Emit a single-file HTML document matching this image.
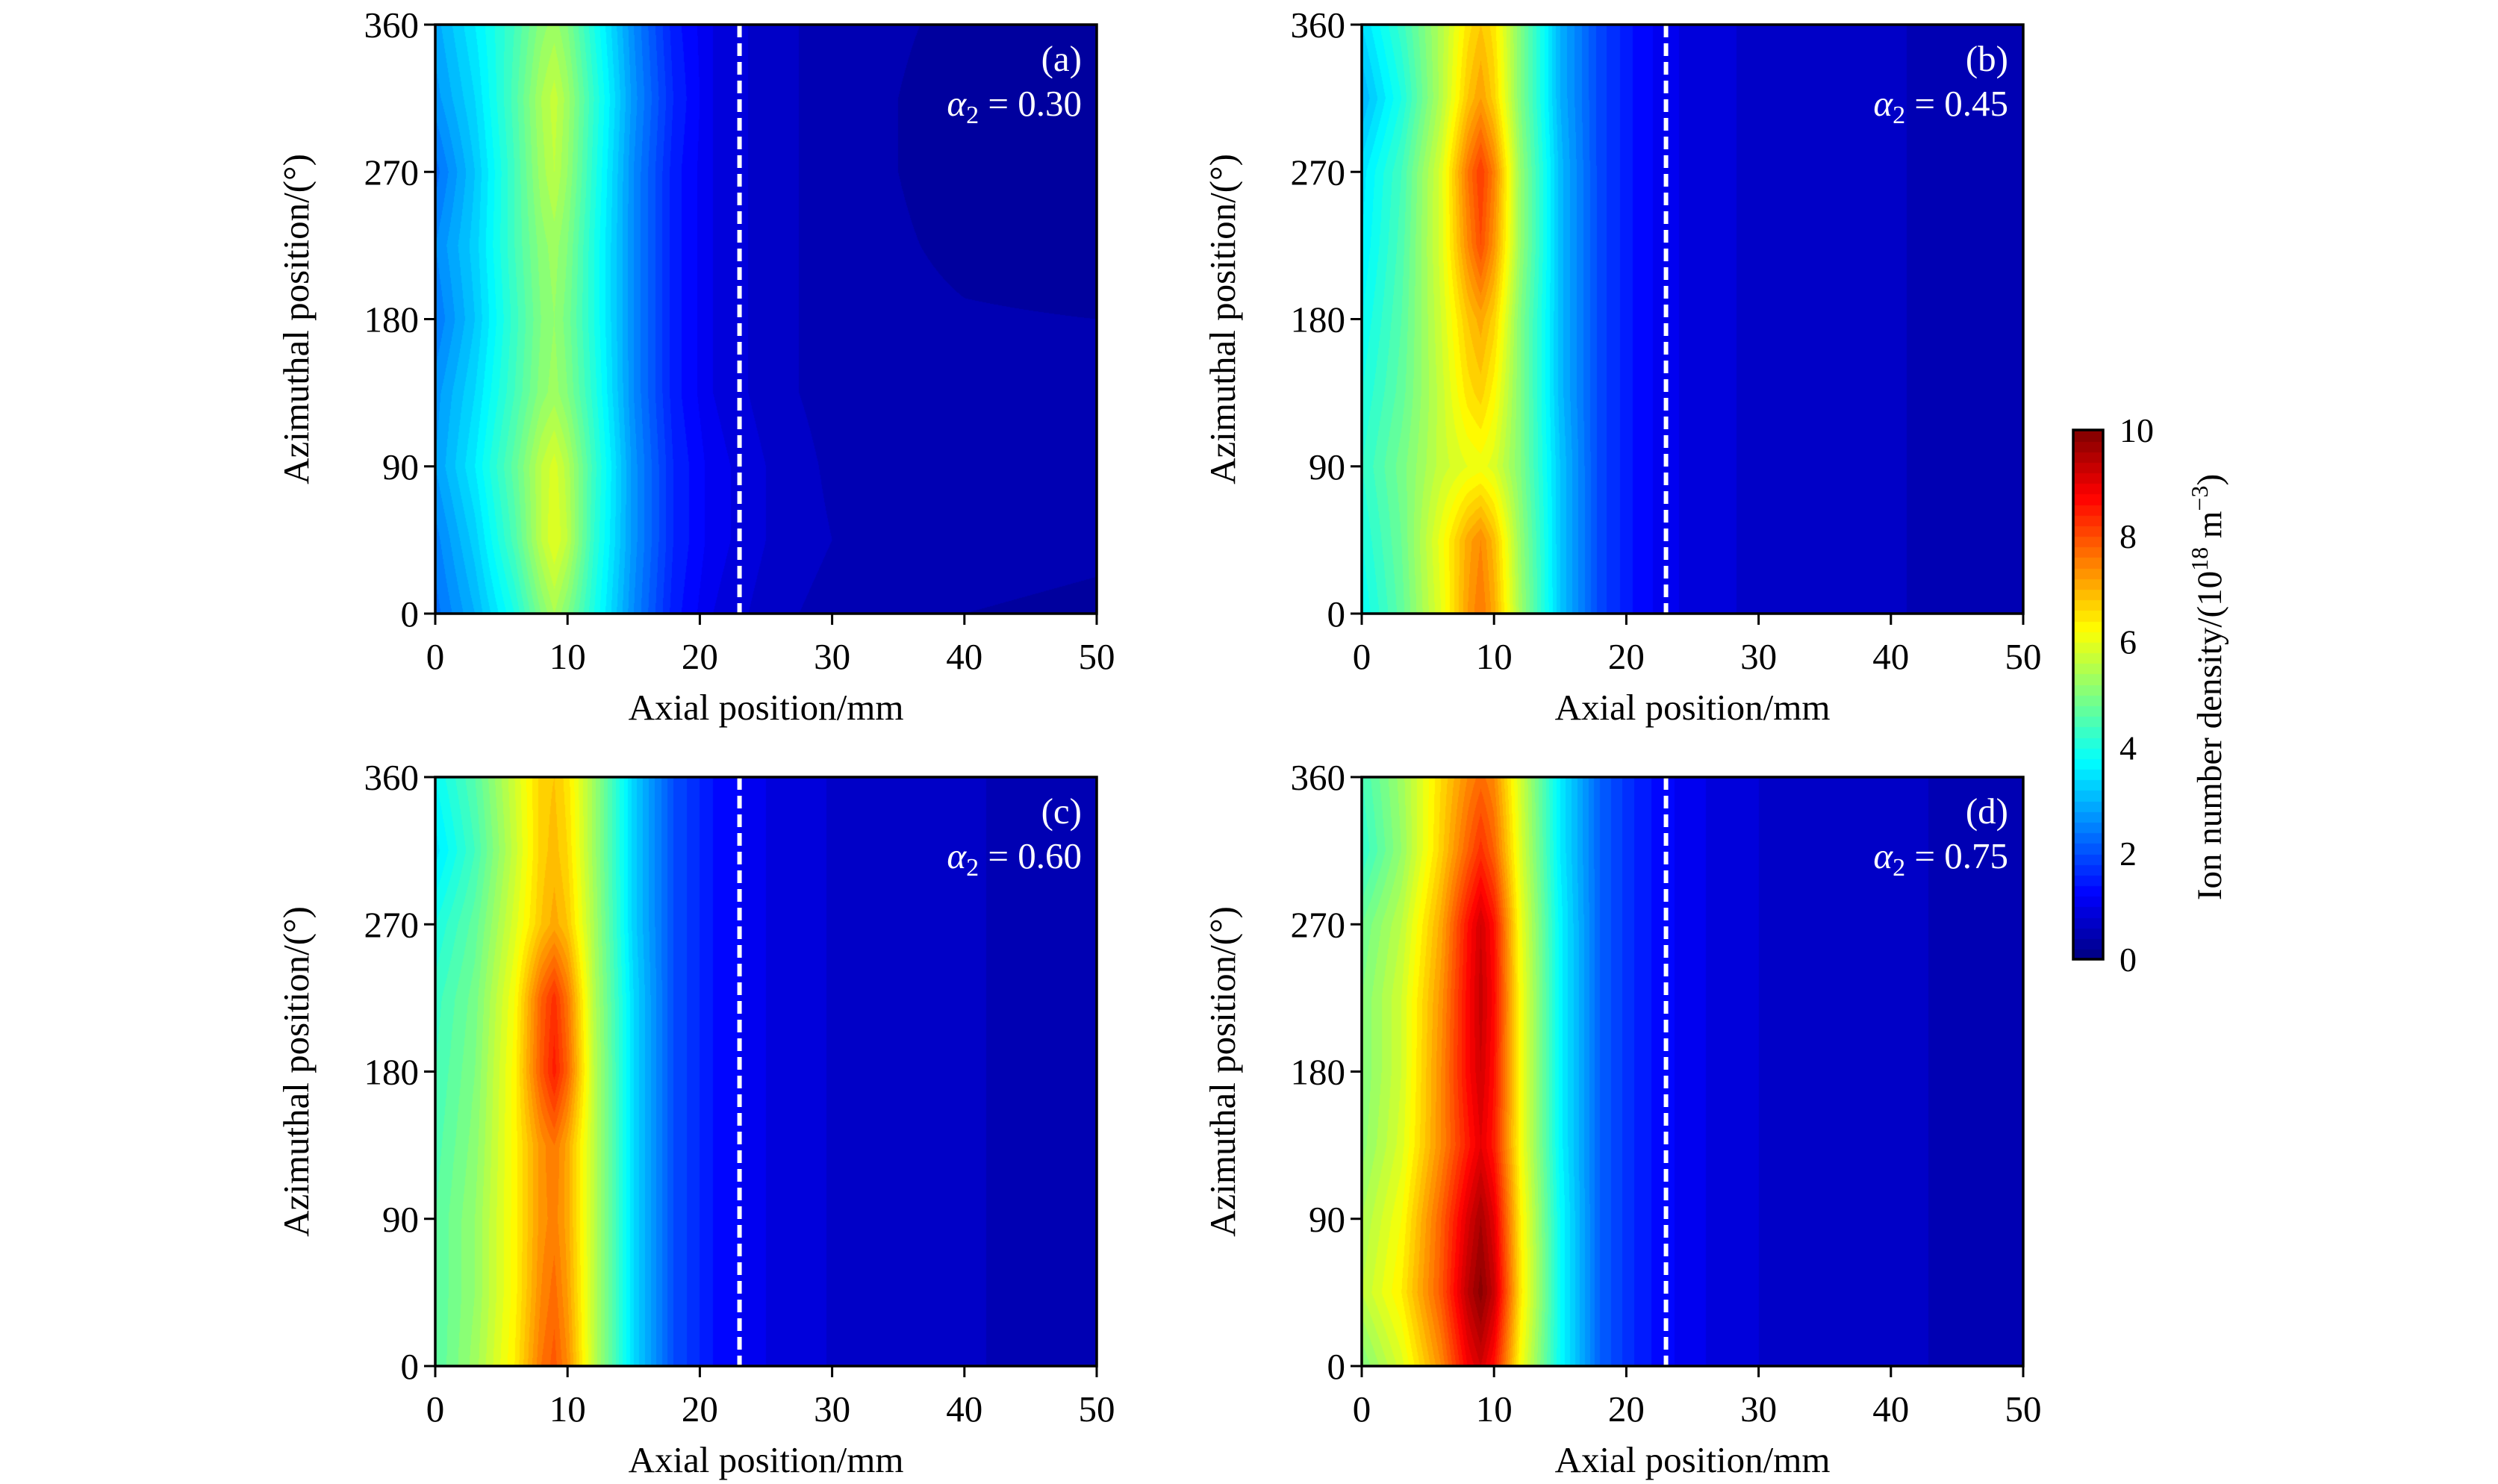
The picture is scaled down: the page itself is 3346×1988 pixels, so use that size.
<!DOCTYPE html>
<html><head><meta charset="utf-8">
<style>
body{margin:0;background:#fff;width:3346px;height:1988px;overflow:hidden;position:relative;font-family:"Liberation Serif",serif;}
canvas{position:absolute;}
svg{position:absolute;left:0;top:0;}
</style></head>
<body>
<canvas id="ca"></canvas>
<canvas id="cb"></canvas>
<canvas id="cc"></canvas>
<canvas id="cd"></canvas>
<canvas id="cbar"></canvas>
<svg id="ov" width="3346" height="1988"></svg>
<script>
const xCols=[0,3,6,8,9,10,12,15,18,21,25,30,40,50];
const thetaRows=[0,45,90,135,180,225,270,315,360];
const xTicks=[0,10,20,30,40,50];
const yTicks=[0,90,180,270,360];
const cbTicks=[0,2,4,6,8,10];
const panelLabels=["(a)","(b)","(c)","(d)"];
const alphaValues=["0.30","0.45","0.60","0.75"];
const dashX=23;
const densA=[
[2.3,3.0,4.0,5.0,5.4,5.0,4.0,2.6,1.5,1.0,0.7,0.5,0.4,0.35],
[2.5,3.3,4.5,5.6,6.0,5.6,4.2,2.7,1.6,1.1,0.8,0.6,0.5,0.45],
[2.8,3.6,4.7,5.6,5.9,5.5,4.3,2.7,1.6,1.1,0.8,0.55,0.5,0.45],
[2.7,3.4,4.4,5.1,5.3,5.0,4.1,2.6,1.5,1.0,0.7,0.5,0.45,0.45],
[2.4,3.2,4.3,5.0,5.2,4.9,4.0,2.6,1.5,1.0,0.7,0.5,0.42,0.4],
[2.6,3.3,4.4,5.1,5.3,5.0,4.0,2.6,1.5,1.0,0.7,0.5,0.35,0.3],
[2.3,3.2,4.4,5.3,5.6,5.2,4.1,2.6,1.5,1.0,0.7,0.5,0.3,0.3],
[2.7,3.4,4.5,5.4,5.7,5.3,4.2,2.7,1.6,1.0,0.7,0.5,0.3,0.3],
[2.9,3.6,4.4,5.1,5.3,5.0,4.0,2.6,1.5,1.0,0.7,0.5,0.35,0.35]];
const densB=[
[3.8,4.7,6.0,7.2,7.6,7.1,5.3,3.2,1.9,1.3,0.9,0.75,0.62,0.45],
[4.0,4.8,6.1,7.1,7.4,6.9,5.2,3.2,1.9,1.3,0.9,0.75,0.62,0.45],
[4.2,4.9,5.7,6.0,6.1,5.9,5.0,3.2,1.9,1.3,0.9,0.75,0.62,0.45],
[4.0,4.7,5.7,6.5,6.7,6.3,5.0,3.1,1.9,1.3,0.9,0.75,0.62,0.45],
[3.8,4.6,5.8,6.8,7.1,6.7,5.0,3.1,1.9,1.3,0.9,0.75,0.62,0.45],
[3.6,4.5,5.9,7.4,8.0,7.3,5.2,3.1,1.9,1.3,0.9,0.75,0.62,0.45],
[3.5,4.4,5.9,7.6,8.2,7.5,5.2,3.1,1.9,1.3,0.9,0.75,0.62,0.45],
[3.0,4.0,5.5,6.8,7.2,6.7,5.0,3.0,1.9,1.3,0.9,0.75,0.62,0.45],
[3.4,4.3,5.5,6.5,6.8,6.5,5.0,3.0,1.9,1.3,0.9,0.75,0.62,0.45]];
const densC=[
[4.6,5.3,6.4,7.6,7.9,7.4,5.6,3.4,2.0,1.4,1.0,0.78,0.62,0.5],
[4.6,5.2,6.3,7.4,7.7,7.2,5.6,3.4,2.0,1.4,1.0,0.78,0.62,0.5],
[4.6,5.2,6.3,7.3,7.5,7.1,5.6,3.4,2.0,1.4,1.0,0.78,0.62,0.5],
[4.5,5.1,6.3,7.3,7.6,7.1,5.6,3.4,2.0,1.4,1.0,0.78,0.62,0.5],
[4.4,5.0,6.3,7.9,8.5,7.8,5.6,3.4,2.0,1.4,1.0,0.78,0.62,0.5],
[4.3,4.9,6.2,7.8,8.3,7.6,5.5,3.4,2.0,1.4,1.0,0.78,0.62,0.5],
[4.0,4.7,5.9,6.8,7.1,6.8,5.4,3.3,2.0,1.4,1.0,0.78,0.62,0.5],
[3.5,4.4,5.7,6.7,6.9,6.6,5.3,3.3,2.0,1.4,1.0,0.78,0.62,0.5],
[3.8,4.6,5.8,6.7,6.8,6.5,5.3,3.3,2.0,1.4,1.0,0.78,0.62,0.5]];
const densD=[
[5.0,5.9,7.4,8.8,9.2,8.6,6.2,3.8,2.2,1.5,1.05,0.8,0.64,0.5],
[5.6,6.4,7.9,9.4,9.9,9.3,6.5,3.8,2.2,1.5,1.05,0.8,0.64,0.5],
[5.4,6.2,7.8,9.1,9.6,9.0,6.4,3.8,2.2,1.5,1.05,0.8,0.64,0.5],
[5.1,5.9,7.4,8.5,9.0,8.5,6.2,3.7,2.2,1.5,1.05,0.8,0.64,0.5],
[5.0,5.8,7.4,8.7,9.2,8.6,6.2,3.7,2.2,1.5,1.05,0.8,0.64,0.5],
[5.0,5.8,7.3,8.7,9.3,8.7,6.2,3.7,2.2,1.5,1.05,0.8,0.64,0.5],
[4.8,5.6,7.1,8.6,9.2,8.6,6.1,3.7,2.2,1.5,1.05,0.8,0.64,0.5],
[4.2,5.2,6.7,7.8,8.3,7.8,5.9,3.6,2.2,1.5,1.05,0.8,0.64,0.5],
[4.4,5.3,6.6,7.4,7.7,7.4,5.8,3.6,2.2,1.5,1.05,0.8,0.64,0.5]];

const panels=[
 {id:'ca',L:583,T:33,d:densA},
 {id:'cb',L:1824,T:33,d:densB},
 {id:'cc',L:583,T:1041,d:densC},
 {id:'cd',L:1824,T:1041,d:densD}];
const W=886,H=789,XMAX=50,YMAX=360,VMAX=10,NLEV=50;
function xs(v,p){return p.L+v/XMAX*W;}
function ys(v,p){return p.T+H-v/YMAX*H;}
function jet(t){const c=v=>Math.round(255*Math.max(0,Math.min(1,v)));
 return [c(1.5-Math.abs(4*t-3)),c(1.5-Math.abs(4*t-2)),c(1.5-Math.abs(4*t-1))];}
function idx(arr,v){let i=0;while(i<arr.length-2&&arr[i+1]<v)i++;return [i,(v-arr[i])/(arr[i+1]-arr[i])];}
function val(d,x,th){const [i,fx]=idx(xCols,x);const [j,fy]=idx(thetaRows,th);
 const a=d[j][i]*(1-fx)+d[j][i+1]*fx, b=d[j+1][i]*(1-fx)+d[j+1][i+1]*fx; return a*(1-fy)+b*fy;}
panels.forEach(p=>{
 const cv=document.getElementById(p.id);cv.width=W;cv.height=H;cv.style.left=p.L+'px';cv.style.top=p.T+'px';
 const ctx=cv.getContext('2d');const img=ctx.createImageData(W,H);
 for(let py=0;py<H;py++){const th=(H-py-0.5)/H*YMAX;
  for(let px=0;px<W;px++){const x=(px+0.5)/W*XMAX;
   let v=val(p.d,x,th);let lev=Math.min(NLEV-1,Math.max(0,Math.floor(v/VMAX*NLEV)));
   const c=jet((lev+0.5)/NLEV);const k=(py*W+px)*4;
   img.data[k]=c[0];img.data[k+1]=c[1];img.data[k+2]=c[2];img.data[k+3]=255;}}
 ctx.putImageData(img,0,0);
});
const CB={L:2777,T:576,W:40,H:709};
const cbc=document.getElementById('cbar');cbc.width=CB.W;cbc.height=CB.H;cbc.style.left=CB.L+'px';cbc.style.top=CB.T+'px';
const cx=cbc.getContext('2d');
for(let l=0;l<NLEV;l++){const c=jet((l+0.5)/NLEV);cx.fillStyle=`rgb(${c[0]},${c[1]},${c[2]})`;
 const y0=CB.H-(l+1)/NLEV*CB.H;cx.fillRect(0,Math.floor(y0),CB.W,Math.ceil(CB.H/NLEV)+1);}
const NS='http://www.w3.org/2000/svg';const ov=document.getElementById('ov');
function el(tag,attrs,txt){const e=document.createElementNS(NS,tag);for(const k in attrs)e.setAttribute(k,attrs[k]);if(txt!==undefined)e.textContent=txt;ov.appendChild(e);return e;}
panels.forEach((p,pi)=>{
 const dl=el('line',{x1:xs(dashX,p),x2:xs(dashX,p),y1:p.T,y2:p.T+H,stroke:'#fff','stroke-width':6,'stroke-dasharray':'17 8'});
 
 
 const fr=el('rect',{x:p.L,y:p.T,width:W,height:H,fill:'none',stroke:'#000','stroke-width':3.5});
 
 
 xTicks.forEach(t=>{const x=xs(t,p);
  const tk=el('line',{x1:x,x2:x,y1:p.T+H,y2:p.T+H+15,stroke:'#000','stroke-width':3});
  
  
  const tl=el('text',{x:x,y:p.T+H+74,'font-size':49,'text-anchor':'middle'},String(t));
  
  });
 yTicks.forEach(t=>{const y=ys(t,p);
  const tk=el('line',{x1:p.L-15,x2:p.L,y1:y,y2:y,stroke:'#000','stroke-width':3});
  
  
  const tl=el('text',{x:p.L-22,y:y+17,'font-size':49,'text-anchor':'end'},String(t));
  
  });
 const xt=el('text',{x:p.L+W/2,y:p.T+H+142,'font-size':49,'text-anchor':'middle'},'Axial position/mm');
 
 
 const ycx=p.L-170,ycy=p.T+H/2;
 const yt=el('text',{x:ycx,y:ycy,'font-size':49,'text-anchor':'middle',transform:`rotate(-90 ${ycx} ${ycy})`},'Azimuthal position/(°)');
 
 
 const pl=el('text',{x:p.L+W-20,y:p.T+62,'font-size':49,'text-anchor':'end',fill:'#fff'},panelLabels[pi]);
 
 
 const at=el('text',{x:p.L+W-20,y:p.T+122,'font-size':49,'text-anchor':'end',fill:'#fff'});
 
 
 at.innerHTML=`<tspan font-style="italic">α</tspan><tspan font-size="34" dy="10">2</tspan><tspan dy="-10"> = ${alphaValues[pi]}</tspan>`;
});
const cbf=el('rect',{x:CB.L,y:CB.T,width:CB.W,height:CB.H,fill:'none',stroke:'#000','stroke-width':3.5});


cbTicks.forEach(t=>{const y=CB.T+CB.H-t/VMAX*CB.H;
 const tl=el('text',{x:CB.L+CB.W+22,y:y+16,'font-size':46},String(t));
 
 });
const lx=2975,ly=CB.T+CB.H/2-10;
const cl=el('text',{x:lx,y:ly,'font-size':47,'text-anchor':'middle',transform:`rotate(-90 ${lx} ${ly})`});


cl.innerHTML='Ion number density/(10<tspan font-size="32" dy="-18">18</tspan><tspan dy="18"> m</tspan><tspan font-size="32" dy="-18">−3</tspan><tspan dy="18">)</tspan>';
</script>
</body></html>
